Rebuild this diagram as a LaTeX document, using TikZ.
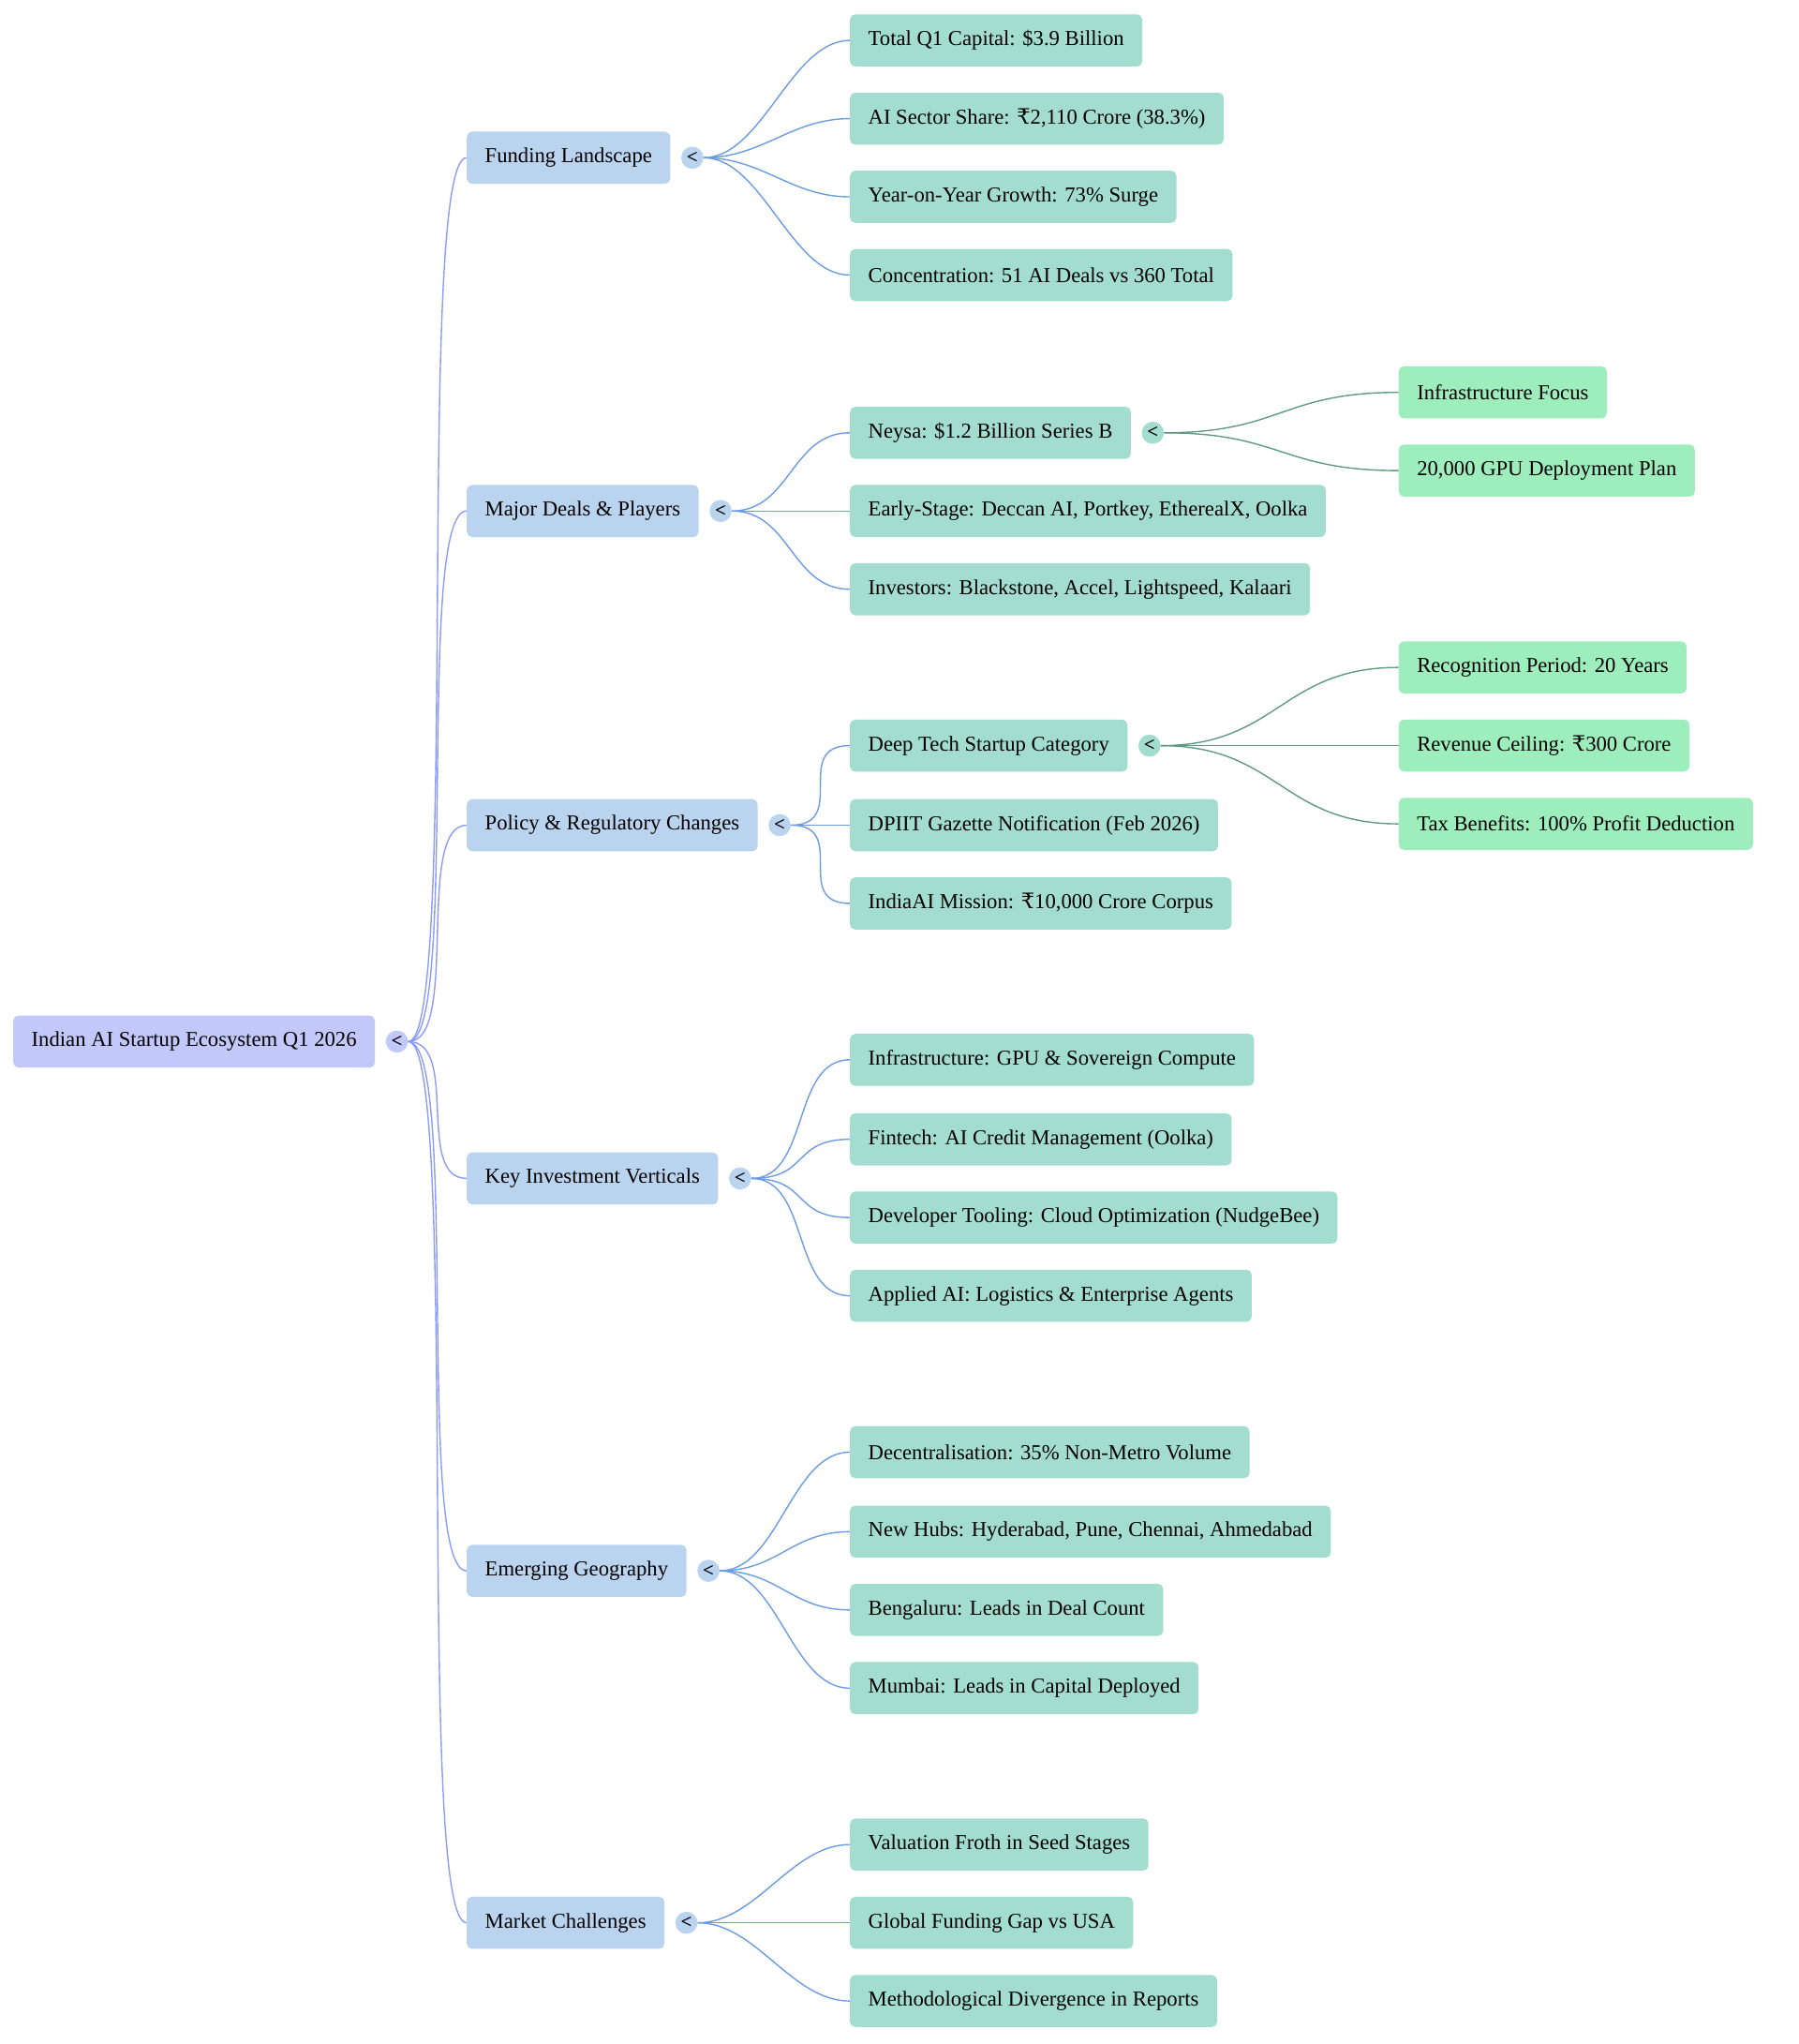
\documentclass[tikz,border=0pt]{standalone}
\usepackage{fontspec}
\setmainfont{Liberation Serif}
\newfontfamily\rsfont{DejaVu Serif}
\newcommand{\Rs}{{\rsfont\char"20B9}}
\usetikzlibrary{positioning}
\definecolor{rootfill}{HTML}{C3C8FB}
\definecolor{catfill}{HTML}{BAD4F0}
\definecolor{itemfill}{HTML}{A3DDD0}
\definecolor{subfill}{HTML}{9DEEBC}
\definecolor{rootline}{HTML}{8C9BF5}
\definecolor{catline}{HTML}{6B9BE0}
\definecolor{itemline}{HTML}{5F9A80}

\begin{document}
\begin{tikzpicture}[
      x=1pt, y=-1pt,
      every node/.style={font=\fontsize{16.3}{19}\selectfont},
      box/.style={rounded corners=4pt, minimum height=40pt, inner xsep=14pt, anchor=west, align=left},
      root/.style={box, fill=rootfill},
      cat/.style={box, fill=catfill},
      item/.style={box, fill=itemfill},
      sub/.style={box, fill=subfill},
      knob/.style={circle, inner sep=0pt, minimum size=17pt, font=\fontsize{15}{15}\selectfont\bfseries, right=8pt of #1.east},
      link/.style={line width=1pt, #1},
    ]
    \useasboundingbox (0,0) rectangle (1380,1568);

    % root
    \node[root] (root) at (10,799) {Indian AI Startup Ecosystem Q1 2026};
    \node[knob=root, fill=rootfill] (kroot) {<};

    % categories
    \node[cat] (fund) at (358,121) {Funding Landscape};
    \node[cat] (deals) at (358,392) {Major Deals \& Players};
    \node[cat] (policy) at (358,633) {Policy \& Regulatory Changes};
    \node[cat] (vert) at (358,904) {Key Investment Verticals};
    \node[cat] (geo) at (358,1205) {Emerging Geography};
    \node[cat] (chal) at (358,1475) {Market Challenges};
    \foreach \c in {fund,deals,policy,vert,geo,chal} {
      \node[knob=\c, fill=catfill] (k\c) {<};
      \draw[link=rootline] (kroot.east) .. controls +(40,0) and +(-40,0) .. (\c.west);
    }

    % funding
    \node[item] (f1) at (652,31) {Total Q1 Capital: \$3.9 Billion};
    \node[item] (f2) at (652,91) {AI Sector Share: \Rs2,110 Crore (38.3\%)};
    \node[item] (f3) at (652,151) {Year-on-Year Growth: 73\% Surge};
    \node[item] (f4) at (652,211) {Concentration: 51 AI Deals vs 360 Total};

    % deals
    \node[item] (d1) at (652,332) {Neysa: \$1.2 Billion Series B};
    \node[item] (d2) at (652,392) {Early-Stage: Deccan AI, Portkey, EtherealX, Oolka};
    \node[item] (d3) at (652,452) {Investors: Blackstone, Accel, Lightspeed, Kalaari};
    \node[knob=d1, fill=itemfill] (kd1) {<};
    \node[sub] (n1) at (1073,301) {Infrastructure Focus};
    \node[sub] (n2) at (1073,361) {20,000 GPU Deployment Plan};

    % policy
    \node[item] (p1) at (652,572) {Deep Tech Startup Category};
    \node[item] (p2) at (652,633) {DPIIT Gazette Notification (Feb 2026)};
    \node[item] (p3) at (652,693) {IndiaAI Mission: \Rs10,000 Crore Corpus};
    \node[knob=p1, fill=itemfill] (kp1) {<};
    \node[sub] (t1) at (1073,512) {Recognition Period: 20 Years};
    \node[sub] (t2) at (1073,572) {Revenue Ceiling: \Rs300 Crore};
    \node[sub] (t3) at (1073,632) {Tax Benefits: 100\% Profit Deduction};

    % verticals
    \node[item] (v1) at (652,813) {Infrastructure: GPU \& Sovereign Compute};
    \node[item] (v2) at (652,874) {Fintech: AI Credit Management (Oolka)};
    \node[item] (v3) at (652,934) {Developer Tooling: Cloud Optimization (NudgeBee)};
    \node[item] (v4) at (652,994) {Applied AI: Logistics \& Enterprise Agents};

    % geography
    \node[item] (g1) at (652,1114) {Decentralisation: 35\% Non-Metro Volume};
    \node[item] (g2) at (652,1175) {New Hubs: Hyderabad, Pune, Chennai, Ahmedabad};
    \node[item] (g3) at (652,1235) {Bengaluru: Leads in Deal Count};
    \node[item] (g4) at (652,1295) {Mumbai: Leads in Capital Deployed};

    % challenges
    \node[item] (c1) at (652,1415) {Valuation Froth in Seed Stages};
    \node[item] (c2) at (652,1475) {Global Funding Gap vs USA};
    \node[item] (c3) at (652,1535) {Methodological Divergence in Reports};

    % the links
    \foreach \p/\list in {fund/{f1,f2,f3,f4}, deals/{d1,d2,d3}, policy/{p1,p2,p3},
                          vert/{v1,v2,v3,v4}, geo/{g1,g2,g3,g4}, chal/{c1,c2,c3}} {
      \foreach \c in \list
        \draw[link=catline] (k\p.east) .. controls +(45,0) and +(-45,0) .. (\c.west);
    }
    \foreach \c in {n1,n2}
      \draw[link=itemline] (kd1.east) .. controls +(90,0) and +(-90,0) .. (\c.west);
    \foreach \c in {t1,t2,t3}
      \draw[link=itemline] (kp1.east) .. controls +(90,0) and +(-90,0) .. (\c.west);
\end{tikzpicture}
\end{document}
